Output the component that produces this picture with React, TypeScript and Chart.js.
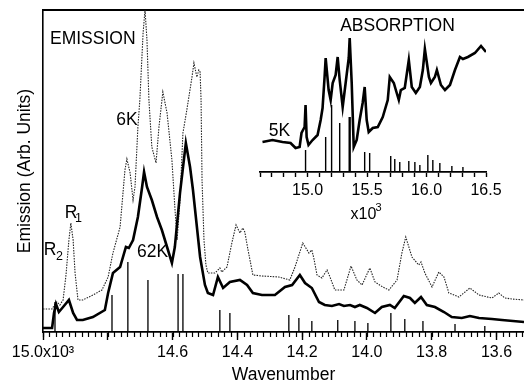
import React, { useEffect, useRef } from 'react';
import { Chart, registerables } from 'chart.js';

Chart.register(...registerables);

const FONT = '"Liberation Sans", Arial, Helvetica, sans-serif';

// Emission spectrum at 6 K (wavenumber x10^3 cm-1, arbitrary intensity)
const EM6_X = [15.000, 14.972, 14.963, 14.957, 14.948, 14.938, 14.929, 14.920, 14.914, 14.907, 14.901, 14.892, 14.877, 14.846, 14.818, 14.799, 14.784, 14.762, 14.747, 14.741, 14.731, 14.722, 14.716, 14.707, 14.701, 14.691, 14.685, 14.679, 14.673, 14.664, 14.651, 14.642, 14.630, 14.617, 14.602, 14.593, 14.586, 14.577, 14.568, 14.556, 14.540, 14.534, 14.525, 14.519, 14.515, 14.512, 14.509, 14.503, 14.497, 14.491, 14.469, 14.454, 14.448, 14.432, 14.417, 14.404, 14.392, 14.383, 14.377, 14.367, 14.352, 14.324, 14.272, 14.238, 14.222, 14.198, 14.179, 14.170, 14.164, 14.154, 14.139, 14.123, 14.114, 14.099, 14.071, 14.049, 14.031, 14.015, 13.991, 13.975, 13.951, 13.932, 13.907, 13.892, 13.880, 13.861, 13.840, 13.833, 13.821, 13.799, 13.778, 13.762, 13.747, 13.716, 13.682, 13.654, 13.614, 13.593, 13.574, 13.552, 13.515];
const EM6_Y = [23, 23, 28, 30, 27, 32, 57, 92, 109, 92, 59, 32, 32, 37, 42, 55, 79, 105, 162, 173, 159, 132, 145, 205, 232, 299, 322, 292, 232, 185, 169, 205, 240, 219, 172, 125, 92, 132, 199, 222, 255, 269, 255, 262, 260, 232, 152, 92, 67, 59, 59, 64, 60, 65, 89, 107, 99, 104, 100, 82, 57, 56, 55, 52, 65, 89, 79, 82, 74, 57, 54, 62, 55, 42, 42, 66, 52, 47, 64, 50, 45, 42, 52, 79, 95, 75, 67, 70, 59, 45, 60, 55, 39, 35, 44, 37, 34, 39, 34, 33, 32];

// Emission spectrum at 62 K
const EM62_X = [15.000, 14.972, 14.966, 14.960, 14.951, 14.938, 14.920, 14.907, 14.895, 14.877, 14.846, 14.809, 14.799, 14.784, 14.762, 14.744, 14.735, 14.722, 14.707, 14.694, 14.688, 14.679, 14.664, 14.648, 14.633, 14.617, 14.602, 14.593, 14.577, 14.559, 14.546, 14.537, 14.515, 14.500, 14.491, 14.475, 14.460, 14.444, 14.423, 14.392, 14.370, 14.352, 14.324, 14.284, 14.253, 14.231, 14.207, 14.191, 14.170, 14.148, 14.130, 14.108, 14.086, 14.071, 14.052, 14.037, 14.022, 14.000, 13.975, 13.954, 13.929, 13.914, 13.886, 13.867, 13.852, 13.833, 13.815, 13.790, 13.762, 13.738, 13.707, 13.682, 13.654, 13.614, 13.583, 13.515];
const EM62_Y = [4, 4, 19, 28, 20, 25, 32, 19, 12, 12, 15, 22, 39, 59, 65, 85, 84, 92, 115, 145, 160, 145, 132, 115, 102, 85, 69, 85, 139, 189, 165, 142, 75, 47, 39, 37, 55, 44, 50, 52, 47, 39, 37, 37, 45, 47, 57, 49, 44, 30, 27, 26, 28, 26, 27, 25, 27, 24, 19, 25, 27, 24, 36, 34, 29, 35, 27, 25, 20, 15, 14, 16, 14, 13, 12, 10];

// Calculated emission lines (stick spectrum)
const EM_STICK_X = [14.963, 14.787, 14.738, 14.676, 14.583, 14.568, 14.454, 14.423, 14.241, 14.210, 14.170, 14.090, 14.037, 13.997, 13.926, 13.883, 13.827, 13.728, 13.636];
const EM_STICK_Y = [30, 37, 70, 52, 58, 58, 22, 19, 17, 14, 11, 12, 11, 9, 19, 13, 11, 8, 6];

// Absorption spectrum at 5 K (inset)
const AB5_X = [14.621, 14.705, 14.789, 14.857, 14.899, 14.933, 14.949, 14.975, 14.983, 14.992, 15.008, 15.042, 15.084, 15.110, 15.126, 15.143, 15.152, 15.177, 15.194, 15.211, 15.236, 15.253, 15.270, 15.295, 15.320, 15.346, 15.354, 15.371, 15.388, 15.413, 15.438, 15.463, 15.480, 15.497, 15.514, 15.548, 15.590, 15.632, 15.674, 15.691, 15.725, 15.742, 15.767, 15.784, 15.817, 15.851, 15.876, 15.910, 15.944, 15.969, 15.986, 16.020, 16.037, 16.070, 16.087, 16.121, 16.155, 16.197, 16.239, 16.281, 16.306, 16.348, 16.407, 16.458, 16.500];
const AB5_Y = [30, 32, 30, 29, 24, 25, 39, 45, 67, 35, 27, 32, 37, 52, 64, 95, 114, 82, 72, 89, 97, 115, 92, 65, 89, 114, 134, 89, 25, 32, 52, 69, 85, 52, 40, 44, 45, 55, 72, 95, 89, 82, 72, 82, 84, 112, 85, 79, 85, 102, 123, 95, 89, 95, 102, 87, 82, 87, 102, 115, 113, 115, 119, 126, 120];

// Calculated absorption lines (inset stick spectrum)
const AB_STICK_X = [14.983, 15.152, 15.202, 15.270, 15.350, 15.358, 15.480, 15.522, 15.699, 15.733, 15.775, 15.851, 15.902, 15.944, 16.011, 16.053, 16.112, 16.213, 16.306];
const AB_STICK_Y = [22, 35, 67, 49, 55, 55, 20, 19, 16, 13, 10, 11, 10, 7, 17, 12, 9, 6, 5];

// Axis ticks and labels
const MAIN_TICKS = [13.6, 13.8, 14.0, 14.2, 14.4, 14.6, 14.8, 15.0];
const MAIN_TICK_LABELS = ['13.6', '13.8', '14.0', '14.2', '14.4', '14.6', '', '15.0x10\u00B3'];
const INSET_LABEL_TICKS = [15.0, 15.5, 16.0, 16.5];
const INSET_TICK_LABELS = ['15.0', '15.5', '16.0', '16.5'];

const toPts = (xs: number[], ys: number[]) => xs.map((x, i) => ({ x, y: ys[i] }));
const toSticks = (xs: number[], ys: number[]) => {
  const out: { x: number; y: number | null }[] = [];
  xs.forEach((x, i) => {
    out.push({ x, y: 0 }, { x, y: ys[i] }, { x, y: null });
  });
  return out;
};

const mainDecor = {
  id: 'mainDecor',
  afterDraw(chart: any) {
    const { ctx, chartArea } = chart;
    const sx = chart.scales.x;
    ctx.save();
    ctx.setLineDash([]);
    // minor ticks every 0.02
    ctx.strokeStyle = '#000';
    ctx.lineWidth = 1.2;
    for (let k = 0; k <= 74; k++) {
      const v = 15.0 - k * 0.02;
      const px = Math.round(sx.getPixelForValue(v)) + 0.5;
      ctx.beginPath();
      ctx.moveTo(px, chartArea.bottom);
      ctx.lineTo(px, chartArea.bottom + 5);
      ctx.stroke();
    }
    ctx.fillStyle = '#000';
    ctx.textBaseline = 'middle';
    ctx.font = `17.5px ${FONT}`;
    ctx.textAlign = 'left';
    ctx.fillText('EMISSION', 50, 39);
    ctx.textAlign = 'center';
    ctx.fillText('6K', 127, 120);
    ctx.fillText('62K', 152.5, 252);
    ctx.fillText('R', 71, 213.5);
    ctx.fillText('R', 50, 250);
    ctx.font = `12.5px ${FONT}`;
    ctx.fillText('1', 78.5, 218.5);
    ctx.fillText('2', 59.5, 256.5);
    ctx.restore();
  },
};

const insetDecor = {
  id: 'insetDecor',
  afterDraw(chart: any) {
    const { ctx } = chart;
    ctx.save();
    ctx.fillStyle = '#000';
    ctx.textBaseline = 'middle';
    ctx.textAlign = 'center';
    ctx.font = `17.5px ${FONT}`;
    ctx.fillText('ABSORPTION', 157.5, 26);
    ctx.fillText('5K', 39.5, 131);
    ctx.font = `16px ${FONT}`;
    ctx.fillText('x10', 123.5, 215);
    ctx.font = `11px ${FONT}`;
    ctx.fillText('3', 138.5, 208);
    ctx.restore();
  },
};

export default function App() {
  const mainRef = useRef<HTMLCanvasElement>(null);
  const insetRef = useRef<HTMLCanvasElement>(null);

  useEffect(() => {
    Chart.defaults.font.family = FONT;
    Chart.defaults.color = '#000';

    const main = new Chart(mainRef.current as HTMLCanvasElement, {
      type: 'line',
      data: {
        datasets: [
          {
            label: 'lines',
            data: toSticks(EM_STICK_X, EM_STICK_Y) as any,
            borderColor: '#000',
            borderWidth: 1.3,
            pointRadius: 0,
            spanGaps: false,
          },
          {
            label: '62K',
            data: toPts(EM62_X, EM62_Y),
            borderColor: '#000',
            borderWidth: 2.6,
            pointRadius: 0,
            tension: 0,
          },
          {
            label: '6K',
            data: toPts(EM6_X, EM6_Y),
            borderColor: '#222',
            borderWidth: 1.1,
            borderDash: [1.5, 1.2],
            pointRadius: 0,
            tension: 0,
          },
        ],
      },
      options: {
        responsive: false,
        animation: false,
        devicePixelRatio: 1,
        layout: { padding: 0 },
        plugins: { legend: { display: false }, tooltip: { enabled: false } },
        scales: {
          x: {
            type: 'linear',
            position: 'bottom',
            reverse: true,
            min: 13.515,
            max: 15.0,
            afterBuildTicks: (s: any) => {
              s.ticks = MAIN_TICKS.map((v) => ({ value: v }));
            },
            afterFit: (s: any) => {
              s.height = 51;
            },
            ticks: {
              autoSkip: false,
              maxRotation: 0,
              padding: 3,
              font: { size: 16, family: FONT },
              color: '#000',
              callback: (v: any) => {
                const i = MAIN_TICKS.findIndex((t) => Math.abs(t - Number(v)) < 1e-6);
                return i >= 0 ? MAIN_TICK_LABELS[i] : '';
              },
            },
            grid: { display: true, drawOnChartArea: false, drawTicks: true, tickLength: 8, tickWidth: 1.4, tickColor: '#000' },
            border: { display: true, color: '#000', width: 1.8 },
            title: {
              display: true,
              text: 'Wavenumber',
              font: { size: 17.5, family: FONT },
              color: '#000',
              padding: { top: 0, bottom: -3 },
            },
          },
          x2: {
            type: 'linear',
            position: 'top',
            min: 13.515,
            max: 15.0,
            reverse: true,
            ticks: { display: false },
            grid: { display: false, drawTicks: false },
            border: { display: true, color: '#000', width: 2 },
            afterFit: (s: any) => {
              s.height = 10;
            },
          },
          y: {
            type: 'linear',
            min: 0,
            max: 322,
            ticks: { display: false },
            grid: { display: false, drawTicks: false },
            border: { display: true, color: '#000', width: 1.6 },
            title: {
              display: true,
              text: 'Emission (Arb. Units)',
              font: { size: 17.5, family: FONT },
              color: '#000',
              padding: { top: 14.5, bottom: 0 },
            },
            afterFit: (s: any) => {
              s.width = 43;
            },
          },
        },
      },
      plugins: [mainDecor],
    });

    const inset = new Chart(insetRef.current as HTMLCanvasElement, {
      type: 'line',
      data: {
        datasets: [
          {
            label: 'lines',
            data: toSticks(AB_STICK_X, AB_STICK_Y) as any,
            borderColor: '#000',
            borderWidth: 1.4,
            pointRadius: 0,
            spanGaps: false,
          },
          {
            label: '5K',
            data: toPts(AB5_X, AB5_Y),
            borderColor: '#000',
            borderWidth: 2.6,
            pointRadius: 0,
            tension: 0,
          },
        ],
      },
      options: {
        responsive: false,
        animation: false,
        devicePixelRatio: 1,
        layout: { padding: { left: 20, right: 38, top: 20, bottom: 0 } },
        plugins: { legend: { display: false }, tooltip: { enabled: false } },
        scales: {
          x: {
            type: 'linear',
            position: 'bottom',
            min: 14.6,
            max: 16.5,
            afterBuildTicks: (s: any) => {
              const t: { value: number }[] = [];
              for (let k = 146; k <= 165; k++) t.push({ value: k / 10 });
              s.ticks = t;
            },
            afterFit: (s: any) => {
              s.height = 58;
            },
            ticks: {
              autoSkip: false,
              maxRotation: 0,
              padding: 4,
              font: { size: 16, family: FONT },
              color: '#000',
              callback: (v: any) => {
                const i = INSET_LABEL_TICKS.findIndex((t) => Math.abs(t - Number(v)) < 1e-6);
                return i >= 0 ? INSET_TICK_LABELS[i] : '';
              },
            },
            grid: { display: true, drawOnChartArea: false, drawTicks: true, tickLength: 5, tickWidth: 1.4, tickColor: '#000' },
            border: { display: true, color: '#000', width: 1.8 },
          },
          y: {
            type: 'linear',
            display: false,
            min: 0,
            max: 152,
          },
        },
      },
      plugins: [insetDecor],
    });

    return () => {
      main.destroy();
      inset.destroy();
    };
  }, []);

  return (
    <div style={{ position: 'absolute', left: 0, top: 0, width: 524, height: 383, background: '#fff' }}>
      <canvas ref={mainRef} width={524} height={383} style={{ position: 'absolute', left: 0, top: 0 }} />
      <canvas ref={insetRef} width={284} height={230} style={{ position: 'absolute', left: 240, top: 0 }} />
    </div>
  );
}
